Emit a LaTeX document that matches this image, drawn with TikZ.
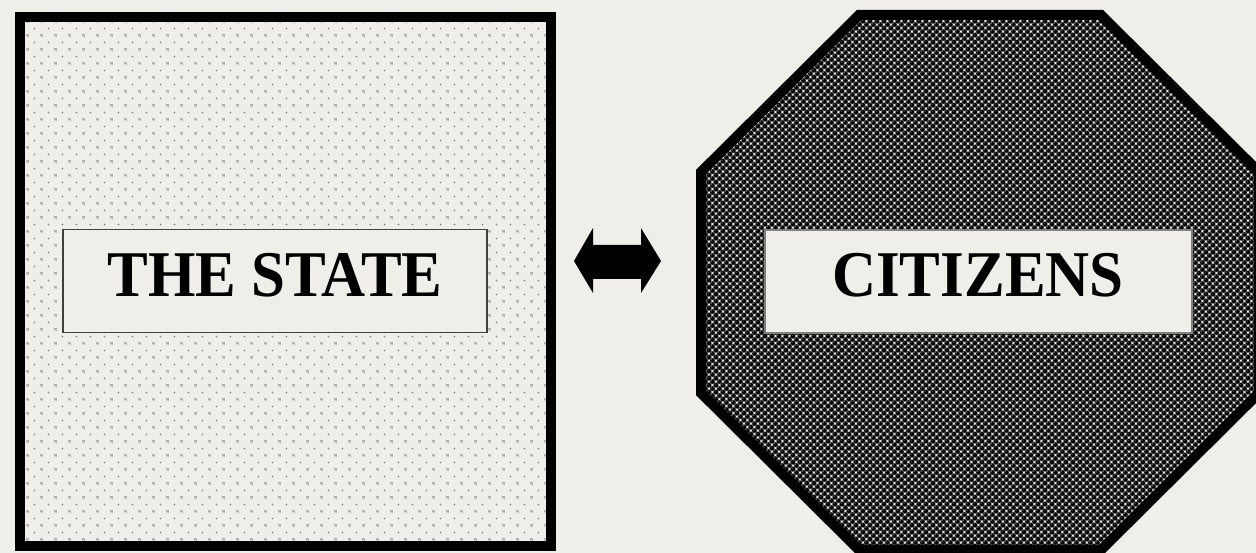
\documentclass[tikz,border=0pt]{standalone}
\usepackage{fontspec}
\setmainfont{Liberation Serif}
\usepackage{graphicx}
\usetikzlibrary{patterns}
\definecolor{bg}{RGB}{239,238,232}
\definecolor{dotgray}{RGB}{120,120,120}
\newcommand\sphereat[2]{%
  \pgfsetfillcolor{black!65}\pgfpathcircle{\pgfpoint{#1}{#2}}{2.85pt}\pgfusepath{fill}%
  \pgfsetfillcolor{black}\pgfpathcircle{\pgfpoint{#1}{#2}}{2.3pt}\pgfusepath{fill}%
  \pgfsetfillcolor{black!40}\pgfpathcircle{\pgfpoint{#1-0.8pt}{#2+0.8pt}}{0.6pt}\pgfusepath{fill}}
\pgfdeclarepatterninherentlycolored{spheres}{\pgfpointorigin}{\pgfpoint{7.4pt}{7.4pt}}{\pgfpoint{7.4pt}{7.4pt}}{%
  \pgfsetfillcolor{white!95!black}%
  \pgfpathrectangle{\pgfpointorigin}{\pgfpoint{7.4pt}{7.4pt}}\pgfusepath{fill}%
  \sphereat{0pt}{0pt}\sphereat{7.4pt}{0pt}\sphereat{0pt}{7.4pt}\sphereat{7.4pt}{7.4pt}%
  \sphereat{3.7pt}{3.7pt}}
\pgfdeclarepatterninherentlycolored{statedots}{\pgfpointorigin}{\pgfpoint{14pt}{14pt}}{\pgfpoint{14pt}{14pt}}{%
  \pgfsetfillcolor{dotgray}%
  \pgfpathcircle{\pgfpoint{0pt}{0pt}}{0.9pt}%
  \pgfpathcircle{\pgfpoint{14pt}{0pt}}{0.9pt}%
  \pgfpathcircle{\pgfpoint{0pt}{14pt}}{0.9pt}%
  \pgfpathcircle{\pgfpoint{14pt}{14pt}}{0.9pt}%
  \pgfpathcircle{\pgfpoint{7pt}{7pt}}{0.9pt}%
  \pgfusepath{fill}}
\tikzset{
  frame/.style={line width=10pt, line join=miter, draw=black},
  labelbox/.style={draw=#1, line width=1.5pt, fill=bg, inner sep=0pt,
    minimum width=424pt, minimum height=103pt},
  bigtext/.style={inner sep=0pt, anchor=base,
    font=\fontsize{61}{61}\selectfont\bfseries},
  arrowshape/.style={fill=black}
}
\begin{document}
\begin{tikzpicture}[x=1pt,y=-1pt]
\clip (0,0) rectangle (1256,553);
\fill[bg] (0,0) rectangle (1256,553);
% the state square
\path[pattern=statedots] (19.5,17) rectangle (551,546);
\draw[frame] (19.5,17) rectangle (551,546);
\node[labelbox=black!75] (statebox) at (275,281) {};
\node[bigtext] (statetext) at (275,297) {\scalebox{1}[1.07]{THE STATE}};
% citizens octagon
\draw[frame, pattern=spheres] (859,15) -- (1101,15) -- (1259,172) -- (1259,393)
  -- (1101,550) -- (859,550) -- (701,393) -- (701,172) -- cycle;
\node[labelbox=black!50, minimum width=427pt] (citbox) at (978.5,281.5) {};
\node[bigtext] (cittext) at (978,297) {\scalebox{1}[1.07]{CITIZENS}};
% double arrow
\fill[arrowshape] (574,261) -- (593,228) -- (593,245) -- (641,245) -- (641,228)
  -- (661,261) -- (641,293) -- (641,279) -- (593,279) -- (593,293) -- cycle;
\end{tikzpicture}
\end{document}
